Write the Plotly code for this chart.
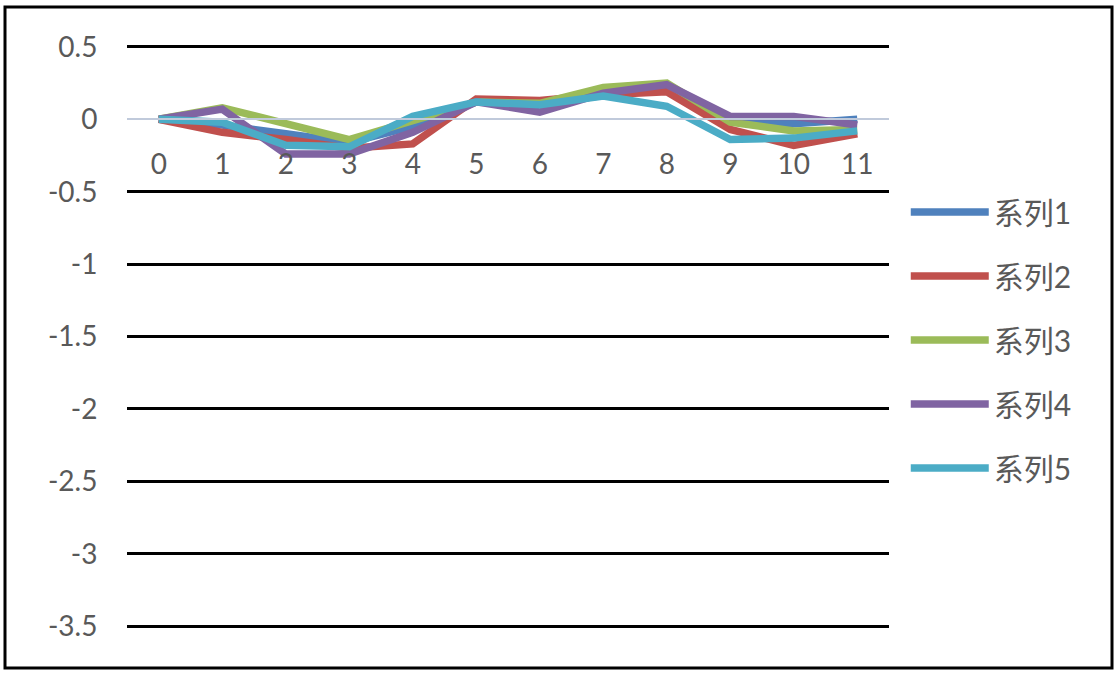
import plotly.graph_objects as go

x = list(range(12))
names = ["系列1", "系列2", "系列3", "系列4", "系列5"]
colors = ["#4F81BD", "#C0504D", "#9BBB59", "#8064A2", "#4BACC6"]

s1 = [0, -0.04, -0.10, -0.16, -0.05, 0.12, 0.11, 0.17, 0.22, -0.01, -0.03, 0.0]
s2 = [0, -0.09, -0.14, -0.20, -0.17, 0.14, 0.13, 0.17, 0.19, -0.07, -0.18, -0.10]
s3 = [0, 0.08, -0.03, -0.14, -0.01, 0.12, 0.11, 0.22, 0.25, -0.02, -0.08, -0.07]
s4 = [0, 0.07, -0.24, -0.24, -0.09, 0.12, 0.05, 0.18, 0.24, 0.02, 0.02, -0.04]
s5 = [0, -0.02, -0.18, -0.19, 0.02, 0.12, 0.10, 0.16, 0.09, -0.14, -0.13, -0.08]
series = [s1, s2, s3, s4, s5]

yticks = [0.5, 0, -0.5, -1, -1.5, -2, -2.5, -3, -3.5]

font = "Lato, 'Noto Sans CJK SC', sans-serif"

# pixel frame of the plot area: y 0.5 -> 47px, -3.5 -> 626px
pad = 0.02
top_px, bot_px = 47, 626
upp = 4.0 / (bot_px - top_px)  # units per pixel
mt = top_px - pad / upp
mb = 676 - bot_px - pad / upp

fig = go.Figure()
for i, (name, ys) in enumerate(zip(names, series)):
    fig.add_trace(go.Scatter(
        x=x, y=ys, name=name, mode="lines",
        line=dict(color=colors[i], width=7.5),
        legendgroup=name,
    ))

h = 676 - mt - mb
y0p = (0 - (-3.5 - pad)) / (4 + 2 * pad)

fig.update_layout(
    width=1116, height=676,
    margin=dict(l=127, r=227, t=mt, b=mb, autoexpand=False),
    plot_bgcolor="white", paper_bgcolor="white",
    font=dict(family=font, color="#595959", size=28),
    legend=dict(
        x=1.022, y=(676 - mb - 186) / h, xanchor="left", yanchor="top",
        font=dict(size=30, color="#595959"),
        traceorder="grouped", tracegroupgap=22,
        itemwidth=78,
    ),
    xaxis=dict(
        range=[-0.5, 11.5], tickvals=x, ticktext=[str(v) for v in x],
        showgrid=False, zeroline=False, automargin=False,
        showline=True, linecolor="#C0CADB", linewidth=2,
        anchor="free", position=y0p,
        ticks="outside", ticklen=20, tickcolor="rgba(0,0,0,0)",
    ),
    yaxis=dict(
        range=[-3.5 - pad, 0.5 + pad], tickvals=yticks,
        ticktext=[str(v) for v in yticks], automargin=False,
        showgrid=True, gridcolor="black", gridwidth=3,
        zeroline=True, zerolinecolor="#C0CADB", zerolinewidth=2,
        showline=False,
        ticks="outside", ticklen=23, tickcolor="rgba(0,0,0,0)",
    ),
    shapes=[dict(
        type="rect", xref="paper", yref="paper",
        x0=(5 - 127) / 762, x1=(1112 - 127) / 762,
        y0=(676 - mb - 668) / h, y1=(676 - mb - 7) / h,
        line=dict(color="black", width=3), layer="below",
    )],
)

# page default body margin would shift the chart by 8px
fig.write_html("out.html", config=dict(displayModeBar=False),
               post_script="document.body.style.margin='0';")
